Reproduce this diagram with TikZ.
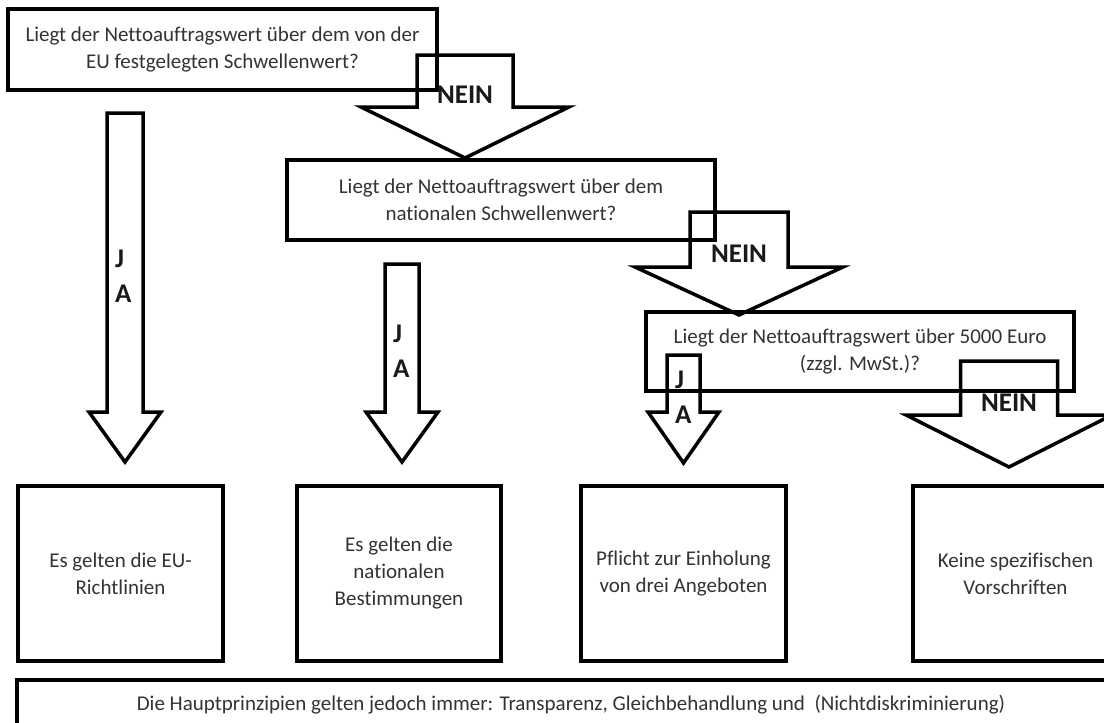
\documentclass[tikz,border=0pt]{standalone}
\usepackage{fontspec}
\setmainfont{Carlito}[Ligatures={NoCommon}, RawFeature={-liga;-dlig;-clig}]
\usetikzlibrary{calc}
\tikzset{
  box/.style={draw=black, line width=3.5pt, align=center, inner sep=0pt, text=black!80,
    font=\fontsize{21}{27}\selectfont},
  blk/.style={draw=black, line width=3.5pt, line join=miter},
  lbl/.style={font=\fontsize{27}{35}\selectfont\bfseries, inner sep=0pt, text=black!90},
}
% #1 start coordinate, #2 tip coordinate, #3 shaft half width, #4 head half width, #5 head length
\newcommand{\blockarr}[5]{%
  \draw[blk] let \p1=(#1), \p2=(#2) in
    (\x1-#3pt,\y1) -- (\x1+#3pt,\y1) -- (\x1+#3pt,\y2+#5pt) -- (\x1+#4pt,\y2+#5pt)
    -- (\x2,\y2) -- (\x1-#4pt,\y2+#5pt) -- (\x1-#3pt,\y2+#5pt) -- cycle;}
\begin{document}
\begin{tikzpicture}[x=1pt,y=-1pt]
\clip (0,0) rectangle (1104,723);
\fill[white] (0,0) rectangle (1104,723);

% question boxes
\node[box, minimum width=429pt, minimum height=81pt] (q1) at (222.5,49.5)
  {Liegt der Nettoauftragswert über dem von der\\EU festgelegten Schwellenwert?};
\node[box, minimum width=428pt, minimum height=80pt] (q2) at (501,200)
  {Liegt der Nettoauftragswert über dem\\nationalen Schwellenwert?};
\node[box, minimum width=428pt, minimum height=79pt] (q3) at (860,351.5)
  {Liegt der Nettoauftragswert über 5000 Euro\\(zzgl. MwSt.)?};

% result boxes
\node[box, minimum width=205pt, minimum height=175pt] (r1) at (120.5,573.5)
  {Es gelten die EU-\\Richtlinien};
\node[box, minimum width=204pt, minimum height=175pt] (r2) at (399,573.5)
  {Es gelten die\\nationalen\\Bestimmungen};
\node[box, minimum width=205pt, minimum height=175pt] (r3) at (683.5,573.5)
  {Pflicht zur Einholung\\von drei Angeboten};
\node[box, minimum width=205pt, minimum height=175pt] (r4) at (1015.5,573.5)
  {Keine spezifischen\\Vorschriften};

% summary box
\node[box, minimum width=1108pt, minimum height=50pt] (sum) at (571,705)
  {Die Hauptprinzipien gelten jedoch immer: Transparenz, Gleichbehandlung und\ \ (Nichtdiskriminierung)};

% block arrows
\coordinate (n1s) at (465,55);    \coordinate (n1e) at (465,158);
\coordinate (j1s) at (125,113);   \coordinate (j1e) at (125,462);
\coordinate (j2s) at (402,264);   \coordinate (j2e) at (402,462);
\coordinate (n2s) at (739,212);   \coordinate (n2e) at (739,315);
\coordinate (j3s) at (683.5,355); \coordinate (j3e) at (683.5,463);
\coordinate (n3s) at (1009,361);  \coordinate (n3e) at (1009,467);

\blockarr{n1s}{n1e}{48}{104}{51}
\blockarr{j1s}{j1e}{18}{36}{50}
\blockarr{j2s}{j2e}{17}{36}{50}
\blockarr{n2s}{n2e}{49}{104}{48}
\blockarr{j3s}{j3e}{16.5}{35.5}{51}
\blockarr{n3s}{n3e}{48.5}{103}{52}

% labels
\node[lbl, anchor=base] (ln1) at (465,103) {NEIN};
\node[lbl, anchor=base] (ln2) at (739,262) {NEIN};
\node[lbl, anchor=base] (ln3) at (1009,411) {NEIN};
\node[lbl, anchor=base west] (lj1) at (115,267) {J};
\node[lbl, anchor=base west] (la1) at (115,302) {A};
\node[lbl, anchor=base west] (lj2) at (393,342) {J};
\node[lbl, anchor=base west] (la2) at (393,377) {A};
\node[lbl, anchor=base west] (lj3) at (675,388) {J};
\node[lbl, anchor=base west] (la3) at (675,423) {A};
\end{tikzpicture}
\end{document}
